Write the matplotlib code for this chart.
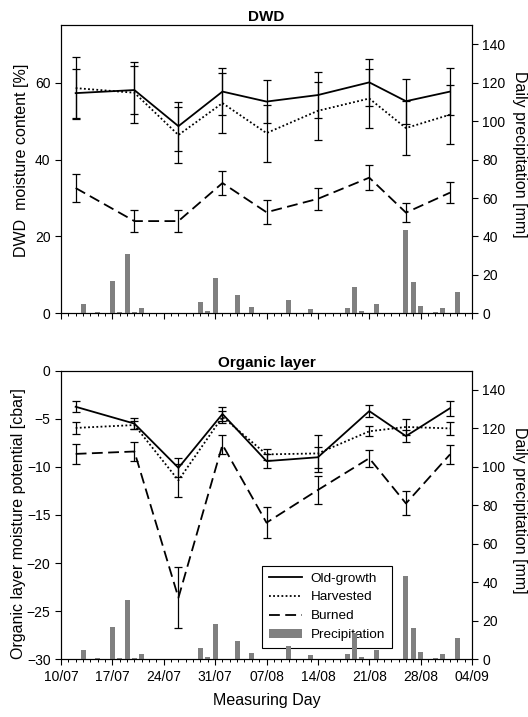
import numpy as np
import pandas as pd
import matplotlib
matplotlib.use('Agg')
import matplotlib.pyplot as plt
import matplotlib.dates as mdates
from matplotlib.ticker import FixedLocator, NullFormatter

plt.rcParams['font.family'] = ['Liberation Sans', 'DejaVu Sans']

# sampling dates of the moisture measurements
measuring_days = pd.to_datetime(['2004-07-12', '2004-07-20', '2004-07-26', '2004-08-01',
                                 '2004-08-07', '2004-08-14', '2004-08-21', '2004-08-26',
                                 '2004-09-01'])

# DWD moisture content [%], mean and error
dwd_old = [57.3, 58.1, 48.7, 57.7, 55.1, 56.8, 60.1, 55.2, 57.7]
dwd_old_err = [6.4, 6.2, 6.4, 6.1, 5.6, 6.0, 6.1, 5.9, 6.1]
dwd_harv = [58.6, 57.4, 46.4, 54.7, 46.9, 52.7, 55.9, 48.2, 51.7]
dwd_harv_err = [8.1, 8.0, 7.4, 7.8, 7.4, 7.5, 7.7, 7.0, 7.7]
dwd_burn = [32.6, 24.0, 24.0, 33.9, 26.3, 29.8, 35.3, 26.2, 31.4]
dwd_burn_err = [3.6, 2.8, 2.8, 3.2, 3.1, 2.9, 3.2, 2.5, 2.8]

# organic layer moisture potential [cbar]
org_old = [-3.75, -5.5, -10.1, -4.5, -9.4, -9.0, -4.2, -6.8, -3.9]
org_old_err = [0.55, 0.6, 1.0, 0.75, 0.7, 1.1, 0.6, 0.6, 0.8]
org_harv = [-5.95, -5.65, -11.4, -4.8, -8.7, -8.6, -6.3, -5.85, -6.0]
org_harv_err = [0.6, 0.45, 1.7, 0.6, 0.6, 1.9, 0.5, 0.8, 0.65]
org_burn = [-8.65, -8.4, -23.6, -7.7, -15.8, -12.4, -9.1, -13.8, -8.7]
org_burn_err = [1.0, 0.95, 3.15, 1.0, 1.6, 1.5, 0.9, 1.25, 1.0]

# daily precipitation [mm] (days without rain left out)
precip_dates = pd.to_datetime(['2004-07-13', '2004-07-15', '2004-07-16', '2004-07-17',
                               '2004-07-18', '2004-07-19', '2004-07-20', '2004-07-21',
                               '2004-07-29', '2004-07-30', '2004-07-31', '2004-08-01',
                               '2004-08-03', '2004-08-05', '2004-08-09', '2004-08-10',
                               '2004-08-13', '2004-08-14', '2004-08-18', '2004-08-19',
                               '2004-08-20', '2004-08-22', '2004-08-26', '2004-08-27',
                               '2004-08-28', '2004-08-30', '2004-08-31', '2004-09-02'])
precip_mm = [4.9, 0.7, 0.4, 16.8, 0.7, 30.9, 0.7, 2.8,
             5.9, 1.2, 18.5, 0.4, 9.5, 3.5, 0.4, 6.9,
             2.3, 0.4, 2.8, 13.7, 1.2, 4.9, 43.3, 16.3,
             3.8, 0.7, 2.8, 11.1]

week_ticks = pd.date_range('2004-07-10', '2004-09-04', freq='7D')
x_start, x_end = week_ticks[0], week_ticks[-1]

FS = 10      # tick labels
LFS = 11.5   # axis labels
TFS = 11     # panel titles

fig = plt.figure(figsize=(5.28, 7.17), dpi=100)
ax_top = fig.add_axes([0.1155, 0.563, 0.7785, 0.402])
ax_bot = fig.add_axes([0.1155, 0.0805, 0.7785, 0.4025])


def draw_panel(ax, old, old_err, harv, harv_err, burn, burn_err):
    common = dict(color='black', ecolor='black', elinewidth=0.9, capsize=3.2,
                  capthick=0.9, lw=1.3)
    h_old = ax.errorbar(measuring_days, old, yerr=old_err, ls='-', **common)
    h_harv = ax.errorbar(measuring_days, harv, yerr=harv_err, ls=(0, (1, 1.3)), **common)
    h_burn = ax.errorbar(measuring_days, burn, yerr=burn_err, ls=(0, (6, 3)), **common)

    ax2 = ax.twinx()
    h_rain = ax2.bar(precip_dates, precip_mm, width=0.68, color='#808080', zorder=1)
    ax2.set_ylim(0, 150)
    ax2.set_yticks(np.arange(0, 141, 20))
    ax2.set_ylabel('Daily precipitation [mm]', rotation=-90, fontsize=LFS)
    ax2.yaxis.label.set_va('bottom')
    ax2.tick_params(axis='y', direction='out', length=4, width=0.8, labelsize=FS)

    ax.set_xlim(x_start, x_end)
    ax.xaxis.set_major_locator(FixedLocator(mdates.date2num(week_ticks)))
    ax.xaxis.set_minor_locator(mdates.DayLocator())
    ax.xaxis.set_major_formatter(mdates.DateFormatter('%d/%m'))
    ax.tick_params(axis='both', which='major', direction='out', length=4, width=0.8,
                   labelsize=FS)
    ax.tick_params(axis='x', which='minor', direction='out', length=2.2, width=0.7)
    for a in (ax, ax2):
        for s in a.spines.values():
            s.set_linewidth(0.8)
    return ax2, [h_old[0], h_harv[0], h_burn[0], h_rain]


ax2_top, _ = draw_panel(ax_top, dwd_old, dwd_old_err, dwd_harv, dwd_harv_err,
                        dwd_burn, dwd_burn_err)
ax_top.set_ylim(0, 75)
ax_top.set_yticks([0, 20, 40, 60])
ax_top.xaxis.set_major_formatter(NullFormatter())
ax_top.set_ylabel('DWD  moisture content [%]', fontsize=LFS)
ax_top.yaxis.set_label_coords(-0.078, 0.532)
ax2_top.yaxis.set_label_coords(1.097, 0.55)
ax_top.set_title('DWD', fontweight='bold', fontsize=TFS, pad=3)

ax2_bot, handles = draw_panel(ax_bot, org_old, org_old_err, org_harv, org_harv_err,
                              org_burn, org_burn_err)
ax_bot.set_ylim(-30, 0)
ax_bot.set_yticks(np.arange(-30, 1, 5))
ax_bot.set_ylabel('Organic layer moisture potential [cbar]', fontsize=LFS)
ax_bot.yaxis.set_label_coords(-0.085, 0.47)
ax2_bot.yaxis.set_label_coords(1.097, 0.517)
ax_bot.set_xlabel('Measuring Day', fontsize=LFS, labelpad=7)
ax_bot.set_title('Organic layer', fontweight='bold', fontsize=TFS, pad=3)

leg = ax_bot.legend(handles, ['Old-growth', 'Harvested', 'Burned', 'Precipitation'],
                    loc='lower left', bbox_to_anchor=(0.489, 0.04), borderaxespad=0,
                    fontsize=9.7, handlelength=2.5, handletextpad=0.6, labelspacing=0.47,
                    borderpad=0.5, fancybox=False, framealpha=1, edgecolor='black')
leg.get_frame().set_linewidth(0.8)

fig.savefig('out.png', dpi=100)
